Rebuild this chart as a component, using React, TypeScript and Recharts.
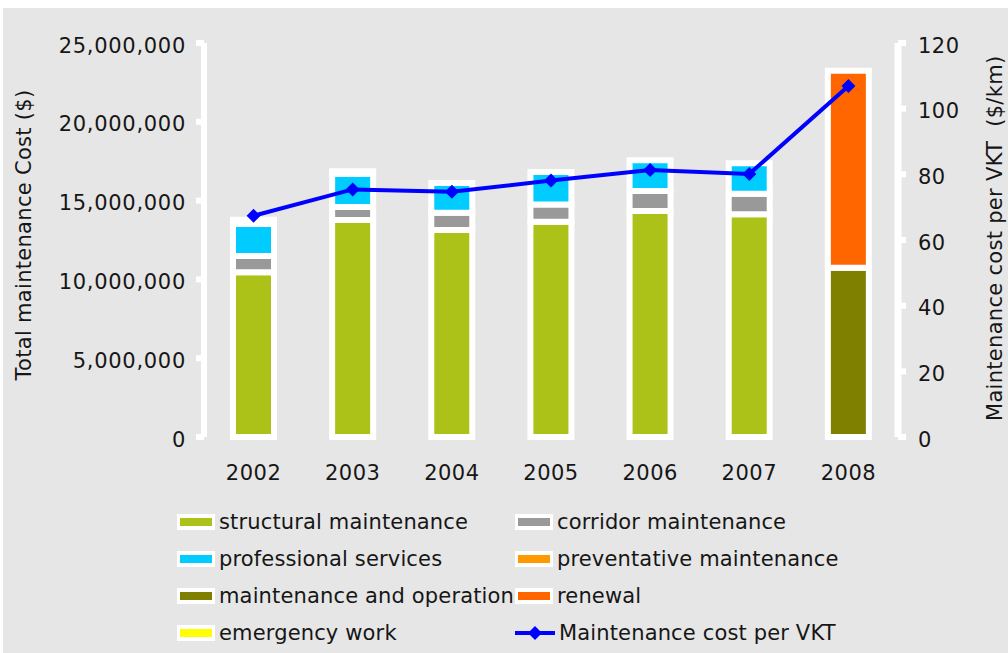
import React from 'react';
import { ComposedChart, Bar, Line, XAxis, YAxis } from 'recharts';

const years = ['2002', '2003', '2004', '2005', '2006', '2007', '2008'];
const structural = [10460000, 13770000, 13130000, 13660000, 14340000, 14130000, 0];
const corridor = [1030000, 820000, 1100000, 1100000, 1270000, 1300000, 0];
const professional = [2020000, 2120000, 1890000, 2050000, 1950000, 1940000, 0];
const preventative = [0, 0, 0, 0, 0, 0, 0];
const maintOps = [0, 0, 0, 0, 0, 0, 10740000];
const renewal = [0, 0, 0, 0, 0, 0, 12500000];
const emergency = [270000, 150000, 0, 0, 0, 0, 0];
const costPerVkt = [67.4, 75.4, 74.7, 78.1, 81.3, 80.1, 106.9];

const leftTicks = [0, 5000000, 10000000, 15000000, 20000000, 25000000];
const rightTicks = [0, 20, 40, 60, 80, 100, 120];
const boundaryTicks = [0, 1, 2, 3, 4, 5, 6, 7];

const barSeries = [
  { key: 'structural', name: 'structural maintenance', color: '#ADC218', values: structural },
  { key: 'corridor', name: 'corridor maintenance', color: '#999999', values: corridor },
  { key: 'professional', name: 'professional services', color: '#00CCFF', values: professional },
  { key: 'preventative', name: 'preventative maintenance', color: '#FF9900', values: preventative },
  { key: 'maintOps', name: 'maintenance and operation', color: '#808000', values: maintOps },
  { key: 'renewal', name: 'renewal', color: '#FF6600', values: renewal },
  { key: 'emergency', name: 'emergency work', color: '#FFFF00', values: emergency },
];
const lineSeries = { key: 'cost', name: 'Maintenance cost per VKT', color: '#0000FF', values: costPerVkt };

const data = years.map((year, i) => {
  const row: Record<string, string | number> = { year };
  barSeries.forEach((s) => {
    row[s.key] = s.values[i];
  });
  row[lineSeries.key] = lineSeries.values[i];
  return row;
});

const FONT = "'DejaVu Sans', sans-serif";
const TEXT = '#161616';

const LeftTick = (props: any) => {
  const { x, y, payload } = props;
  return (
    <text x={x} y={y} dy={9.6} textAnchor="end" fontFamily={FONT} fontSize={21} letterSpacing={0.7} fill={TEXT}>
      {Number(payload.value).toLocaleString('en-US')}
    </text>
  );
};

const RightTick = (props: any) => {
  const { x, y, payload } = props;
  return (
    <text x={x} y={y} dy={9.6} textAnchor="start" fontFamily={FONT} fontSize={21} letterSpacing={0.5} fill={TEXT}>
      {payload.value}
    </text>
  );
};

const XTick = (props: any) => {
  const { x, y, payload } = props;
  return (
    <text x={x} y={y} dy={15.3} textAnchor="middle" fontFamily={FONT} fontSize={21} letterSpacing={0.5} fill={TEXT}>
      {payload.value}
    </text>
  );
};

const Diamond = (props: any) => {
  const { cx, cy } = props;
  if (cx == null || cy == null) return null;
  const r = 7;
  return <path d={`M${cx},${cy - r} L${cx + r},${cy} L${cx},${cy + r} L${cx - r},${cy} Z`} fill="#0000FF" />;
};

const leftTitle = (props: any) => {
  const vb = props.viewBox;
  const x = vb.x + 27.7;
  const y = vb.y + vb.height / 2 - 5;
  return (
    <text x={x} y={y} transform={`rotate(-90 ${x} ${y})`} textAnchor="middle" fontFamily={FONT} fontSize={21} letterSpacing={0.3} fill={TEXT}>
      Total maintenance Cost ($)
    </text>
  );
};

const rightTitle = (props: any) => {
  const vb = props.viewBox;
  const x = vb.x + 103.7;
  const y = vb.y + vb.height / 2 - 1.7;
  return (
    <text x={x} y={y} transform={`rotate(-90 ${x} ${y})`} textAnchor="middle" fontFamily={FONT} fontSize={21} letterSpacing={0.3} fill={TEXT} style={{ whiteSpace: 'pre' }}>
      {'Maintenance cost per VKT  ($/km)'}
    </text>
  );
};

const legendOrder = [
  barSeries[0], barSeries[1],
  barSeries[2], barSeries[3],
  barSeries[4], barSeries[5],
  barSeries[6], null,
];

const LegendItem = ({ item, isLine, left, center }: any) => (
  <div
    style={{
      position: 'absolute',
      left,
      top: center - 12,
      height: 24,
      display: 'flex',
      alignItems: 'center',
      whiteSpace: 'nowrap',
    }}
  >
    {isLine ? (
      <svg width={40} height={16} style={{ display: 'block' }}>
        <line x1={0} y1={8} x2={40} y2={8} stroke={lineSeries.color} strokeWidth={4} />
        <path d="M20,1 L27,8 L20,15 L13,8 Z" fill={lineSeries.color} />
      </svg>
    ) : (
      <div
        style={{
          width: 32,
          height: 8,
          borderStyle: 'solid',
          borderColor: '#ffffff',
          borderWidth: '4px 3px',
          background: item.color,
        }}
      />
    )}
    <span
      style={{
        marginLeft: 4,
        fontFamily: FONT,
        fontSize: 21,
        lineHeight: '24px',
        letterSpacing: 0.15,
        color: TEXT,
      }}
    >
      {isLine ? lineSeries.name : item.name}
    </span>
  </div>
);

export default function App() {
  const colLefts = [174, 512];
  const rowCenters = [513.7, 550.8, 587.9, 625.0];
  return (
    <div
      style={{
        position: 'absolute',
        left: 3,
        top: 8,
        width: 1005,
        height: 645,
        background: '#E6E6E6',
        overflow: 'hidden',
      }}
    >
      <ComposedChart
        width={1005}
        height={645}
        data={data}
        margin={{ top: 35, right: 0, left: 0, bottom: 176 }}
      >
        <XAxis
          xAxisId="grid"
          type="number"
          domain={[0, 7]}
          ticks={boundaryTicks}
          allowDataOverflow
          height={0}
          tick={false}
          tickSize={8}
          tickLine={{ stroke: '#ffffff', strokeWidth: 6 }}
          axisLine={{ stroke: '#ffffff', strokeWidth: 6 }}
        />
        <XAxis
          dataKey="year"
          height={40}
          interval={0}
          tickLine={false}
          axisLine={false}
          tickSize={8}
          tickMargin={20}
          tick={<XTick />}
        />
        <YAxis
          yAxisId="left"
          width={201}
          domain={[0, 25000000]}
          ticks={leftTicks}
          interval={0}
          tickSize={8}
          tickMargin={10}
          tickLine={{ stroke: '#ffffff', strokeWidth: 6 }}
          axisLine={{ stroke: '#ffffff', strokeWidth: 6 }}
          tick={<LeftTick />}
          label={{ value: 'Total maintenance Cost ($)', content: leftTitle }}
        />
        <YAxis
          yAxisId="right"
          orientation="right"
          width={110}
          domain={[0, 120]}
          ticks={rightTicks}
          interval={0}
          tickSize={8}
          tickMargin={12}
          tickLine={{ stroke: '#ffffff', strokeWidth: 6 }}
          axisLine={{ stroke: '#ffffff', strokeWidth: 7 }}
          tick={<RightTick />}
          label={{ value: 'Maintenance cost per VKT ($/km)', content: rightTitle }}
        />
        {barSeries.map((s) => (
          <Bar
            key={s.key}
            dataKey={s.key}
            name={s.name}
            yAxisId="left"
            stackId="cost"
            fill={s.color}
            stroke="#ffffff"
            strokeWidth={6}
            barSize={41}
            isAnimationActive={false}
          />
        ))}
        <Line
          dataKey={lineSeries.key}
          name={lineSeries.name}
          yAxisId="right"
          type="linear"
          stroke={lineSeries.color}
          strokeWidth={4}
          dot={<Diamond />}
          activeDot={false}
          isAnimationActive={false}
        />
      </ComposedChart>
      {legendOrder.map((item, i) => (
        <LegendItem
          key={i}
          item={item}
          isLine={item === null}
          left={colLefts[i % 2]}
          center={rowCenters[Math.floor(i / 2)]}
        />
      ))}
    </div>
  );
}
